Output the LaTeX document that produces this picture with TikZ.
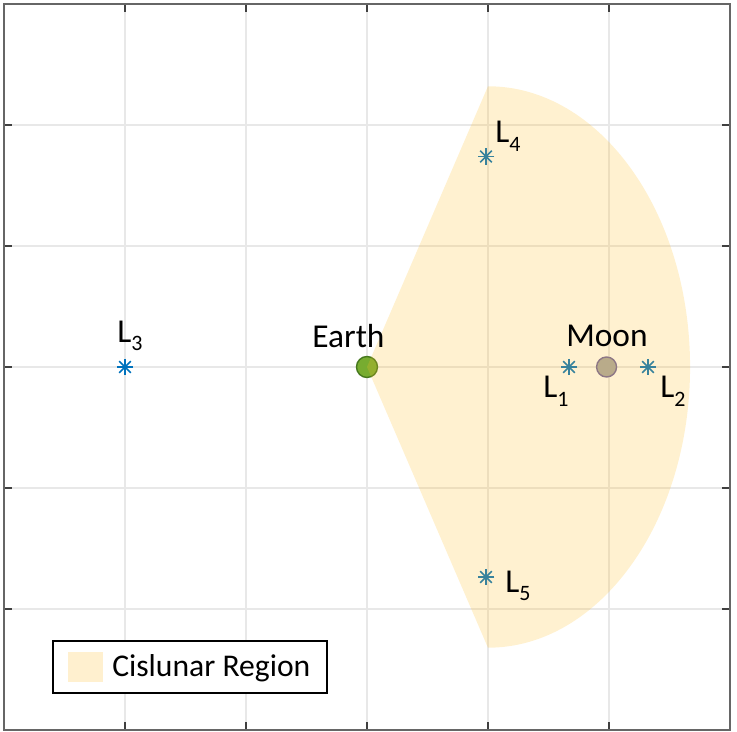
\documentclass[tikz,border=0pt]{standalone}
\usepackage{fontspec}
\setmainfont{Carlito}
\usepackage{tikz}
\usetikzlibrary{calc}

\definecolor{cisyellow}{RGB}{255,190,40}
\definecolor{lagblue}{RGB}{0,114,189}
\definecolor{earthgreen}{RGB}{119,172,48}
\definecolor{earthedge}{RGB}{70,120,30}
\definecolor{moongray}{RGB}{166,166,166}
\definecolor{moonedge}{RGB}{110,100,160}
\newcommand{\lpoint}[1]{L\raisebox{-5pt}{\fontsize{12.5}{15}\selectfont #1}}

\begin{document}
\begin{tikzpicture}[x=4.84cm, y=4.84cm,
	axisframe/.style={draw=black!60, line width=1.1pt},
	gridline/.style={draw=black!9, line width=0.8pt},
	tickmark/.style={draw=black!75, line width=1.1pt},
	body/.style={circle, inner sep=0pt, line width=0.8pt},
	starline/.style={draw=lagblue, line width=0.9pt},
	lbl/.style={inner sep=0pt, anchor=base west, font=\fontsize{19}{23}\selectfont},
	cislunar/.style={fill=cisyellow, fill opacity=0.22}]
	\useasboundingbox (-1.5165,-1.508) rectangle (1.529,1.5165);
	\foreach \v in {-1,-0.5,0,0.5,1} {
		\draw[gridline] (\v,-1.5) -- (\v,1.5);
		\draw[gridline] (-1.5,\v) -- (1.5,\v);
		\draw[tickmark] (\v,-1.5) -- (\v,-1.467);
		\draw[tickmark] (\v,1.5) -- (\v,1.467);
		\draw[tickmark] (-1.5,\v) -- (-1.467,\v);
		\draw[tickmark] (1.5,\v) -- (1.467,\v);
	}
	\draw[axisframe] (-1.5,-1.5) rectangle (1.5,1.5);

	\node[body, fill=earthgreen, draw=earthedge, minimum size=0.42cm] (Earth) at (0,0) {};
	\node[body, fill=moongray, draw=moonedge, minimum size=0.4cm] (Moon) at (0.99,0) {};
	\coordinate (L1) at (0.835,0);
	\coordinate (L2) at (1.161,0);
	\coordinate (L3) at (-1.0,0);
	\coordinate (L4) at (0.492,0.870);
	\coordinate (L5) at (0.492,-0.868);
	\foreach \p in {L1,L2,L3,L4,L5}
		\foreach \a in {0,45,90,135}
			\draw[starline] ($(\p)+(\a:0.034)$) -- ($(\p)+(\a+180:0.034)$);

	\coordinate (captop) at (0.5,1.16);
	\fill[cislunar] (Earth.center) -- (captop) arc[start angle=90, end angle=-90, x radius=0.835, y radius=1.16] -- cycle;

	\node[lbl] (earthlbl) at (-0.227,0.079) {Earth};
	\node[lbl] (moonlbl) at (0.822,0.083) {Moon};
	\node[lbl] (L1lbl) at (0.727,-0.128) {\lpoint{1}};
	\node[lbl] (L2lbl) at (1.211,-0.128) {\lpoint{2}};
	\node[lbl] (L3lbl) at (-1.033,0.103) {\lpoint{3}};
	\node[lbl] (L4lbl) at (0.529,0.926) {\lpoint{4}};
	\node[lbl] (L5lbl) at (0.570,-0.930) {\lpoint{5}};

	\draw[fill=white, line width=0.9pt] (-1.298,-1.347) rectangle (-0.165,-1.132);
	\fill[cislunar] (-1.236,-1.302) rectangle (-1.091,-1.178);
	\node[lbl, font=\fontsize{18}{22}\selectfont] (leglbl) at (-1.054,-1.277) {Cislunar Region};
\end{tikzpicture}
\end{document}
